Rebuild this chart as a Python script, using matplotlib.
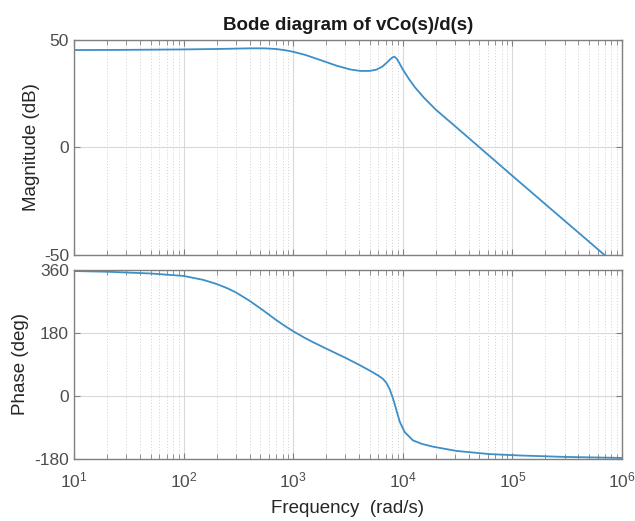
import matplotlib
matplotlib.use("Agg")
import matplotlib.pyplot as plt
from matplotlib.ticker import LogLocator, FixedLocator, NullFormatter

plt.rcParams['font.family'] = ['Liberation Sans', 'DejaVu Sans']
plt.rcParams['mathtext.fontset'] = 'custom'
plt.rcParams['mathtext.rm'] = 'Liberation Sans'
plt.rcParams['axes.unicode_minus'] = False

# magnitude (rad/s, dB)
mag_freq = [10, 30, 100, 200, 400, 550, 700, 850, 1000, 1300, 1760, 2500,
            3300, 4100, 5000, 5750, 6500, 7130, 7600, 8000, 8400, 8800, 9300,
            10000, 11500, 13000, 15500, 20000, 30000, 50000, 100000, 200000,
            500000, 1000000]
mag_db = [45.3, 45.4, 45.6, 45.8, 46.1, 46.1, 45.8, 45.2, 44.5, 43.0, 40.7,
          38.0, 36.3, 35.6, 35.6, 36.2, 37.6, 39.4, 40.8, 41.8, 42.2, 41.3,
          39.3, 36.3, 31.5, 27.8, 23.3, 17.6, 9.9, 0.1, -13.2, -26.4,
          -43.8, -57.0]

# phase (rad/s, deg)
ph_freq = [10, 20, 50, 100, 150, 200, 250, 300, 400, 525, 700, 850, 1000,
           1250, 1520, 2000, 3000, 4000, 5000, 6000, 6600, 7100, 7600, 8000,
           8400, 8750, 9400, 10400, 12400, 15000, 19000, 31000, 62000,
           118000, 300000, 1000000]
ph_deg = [357, 355, 350, 343, 332, 320, 308, 296, 272, 246, 217, 199, 185,
          167.6, 153.6, 135.4, 109, 89, 72.5, 58, 49, 37, 19, 0, -21, -41,
          -74, -103, -127, -137, -145, -157, -166, -170, -174, -177]

line_color = '#3d8fc8'
spine_color = '#808080'
text_color = '#4d4d4d'

fig = plt.figure(figsize=(6.35, 5.21), dpi=100)
ax1 = fig.add_axes([0.1165, 0.5106, 0.863, 0.4127])
ax2 = fig.add_axes([0.1165, 0.119, 0.863, 0.3628])

ax1.semilogx(mag_freq, mag_db, color=line_color, lw=1.3)
ax2.semilogx(ph_freq, ph_deg, color=line_color, lw=1.3)

for ax in (ax1, ax2):
    ax.set_xlim(10, 1e6)
    ax.xaxis.set_major_locator(LogLocator(base=10, numticks=10))
    ax.xaxis.set_minor_locator(LogLocator(base=10, subs=range(2, 10), numticks=100))
    ax.xaxis.set_minor_formatter(NullFormatter())
    ax.grid(True, which='major', color='#d9d9d9', lw=0.8, ls='-')
    ax.grid(True, which='minor', axis='x', color='#d0d0d0', lw=0.7, ls=(0, (1, 2)))
    ax.tick_params(which='both', direction='in', top=True, right=True,
                   colors=spine_color, labelcolor=text_color, labelsize=12.5)
    ax.tick_params(which='major', length=4)
    ax.tick_params(which='minor', length=3.5)
    for s in ax.spines.values():
        s.set_color(spine_color)
        s.set_linewidth(1.0)
    ax.set_axisbelow(True)

ax1.set_ylim(-50, 50)
ax1.yaxis.set_major_locator(FixedLocator([-50, 0, 50]))
ax1.xaxis.set_major_formatter(NullFormatter())
ax1.set_ylabel('Magnitude (dB)', fontsize=13.5, color='#262626', labelpad=3)
ax1.set_title('Bode diagram of vCo(s)/d(s)', fontsize=13.5, fontweight='bold',
              color='#1a1a1a', pad=7)

ax2.set_ylim(-180, 360)
ax2.yaxis.set_major_locator(FixedLocator([-180, 0, 180, 360]))
ax2.set_xticks([1e1, 1e2, 1e3, 1e4, 1e5, 1e6])
ax2.set_xticklabels([r'$\mathregular{10^{%d}}$' % k for k in range(1, 7)])
ax2.tick_params(axis='x', which='major', pad=8)
ax2.set_ylabel('Phase (deg)', fontsize=13.5, color='#262626', labelpad=4)
ax2.set_xlabel('Frequency  (rad/s)', fontsize=13.5, color='#262626', labelpad=7)

fig.savefig('out.png', dpi=100)
